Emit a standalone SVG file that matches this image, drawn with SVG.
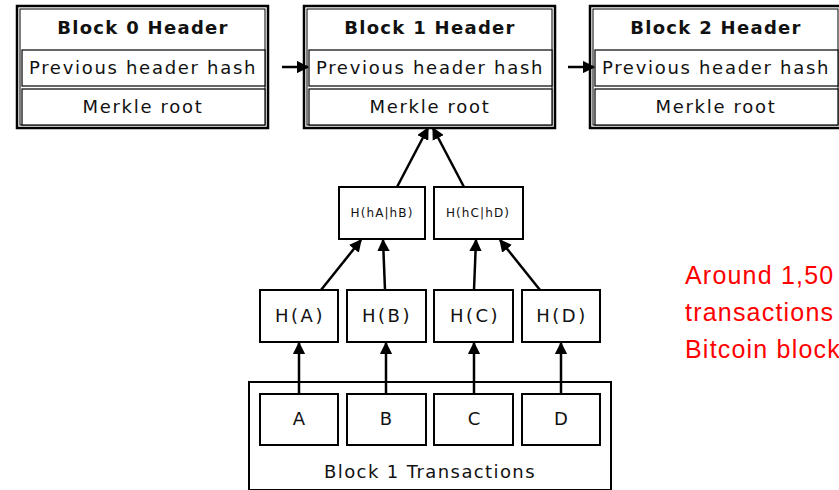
<svg xmlns="http://www.w3.org/2000/svg" width="839" height="490" viewBox="0 0 839 490">
  <style>
    .frame { fill: #fff; stroke: #000; stroke-width: 2.5; }
    .inner { fill: none; stroke: #000; stroke-width: 1; }
    .field { fill: #fff; stroke: #000; stroke-width: 1.2; }
    .box { fill: #fff; stroke: #000; stroke-width: 2; }
    .t { font-family: "DejaVu Sans", sans-serif; fill: #111; text-anchor: middle; }
    .title { font-size: 18px; font-weight: bold; letter-spacing: 1.3px; }
    .lbl { font-size: 18px; letter-spacing: 1.7px; }
    .small { font-size: 12px; letter-spacing: 1.1px; }
    .hash { font-size: 18px; letter-spacing: 2.5px; }
    .tx { font-size: 18px; }
    .note { font-family: "Liberation Sans", "Open Sans", sans-serif; font-size: 25px; letter-spacing: 1.2px; fill: #ff0000; }
    .edge { stroke: #000; stroke-width: 2.5; fill: none; marker-end: url(#head); }
  </style>
  <defs>
    <marker id="head" viewBox="0 0 10 10" refX="9" refY="5" markerWidth="5" markerHeight="5" orient="auto" markerUnits="strokeWidth">
      <path d="M0,0 L10,5 L0,10 z" fill="#000"/>
    </marker>
  </defs>
  <rect width="839" height="490" fill="#fff"/>

  <!-- block headers -->
  <g id="block0">
    <rect class="frame" x="17" y="6" width="251" height="122"/>
    <rect class="inner" x="20" y="9" width="245" height="116"/>
    <text class="t title" x="143" y="34">Block 0 Header</text>
    <rect class="field" x="22" y="50" width="243" height="36"/>
    <text class="t lbl" x="143" y="74">Previous header hash</text>
    <rect class="field" x="22" y="89" width="243" height="36"/>
    <text class="t lbl" x="143" y="113">Merkle root</text>
  </g>
  <g id="block1">
    <rect class="frame" x="304" y="6" width="251" height="122"/>
    <rect class="inner" x="307" y="9" width="245" height="116"/>
    <text class="t title" x="430" y="34">Block 1 Header</text>
    <rect class="field" x="309" y="50" width="243" height="36"/>
    <text class="t lbl" x="430" y="74">Previous header hash</text>
    <rect class="field" x="309" y="89" width="243" height="36"/>
    <text class="t lbl" x="430" y="113">Merkle root</text>
  </g>
  <g id="block2">
    <rect class="frame" x="590" y="6" width="251" height="122"/>
    <rect class="inner" x="593" y="9" width="245" height="116"/>
    <text class="t title" x="716" y="34">Block 2 Header</text>
    <rect class="field" x="595" y="50" width="243" height="36"/>
    <text class="t lbl" x="716" y="74">Previous header hash</text>
    <rect class="field" x="595" y="89" width="243" height="36"/>
    <text class="t lbl" x="716" y="113">Merkle root</text>
  </g>

  <!-- inner hash nodes -->
  <g id="hAB">
    <rect class="box" x="339" y="187" width="86" height="52"/>
    <text class="t small" x="382" y="217">H(hA|hB)</text>
  </g>
  <g id="hCD">
    <rect class="box" x="434" y="187" width="89" height="52"/>
    <text class="t small" x="478" y="217">H(hC|hD)</text>
  </g>

  <!-- leaf hashes -->
  <g id="hA">
    <rect class="box" x="260" y="290" width="78" height="52"/>
    <text class="t hash" x="300" y="322">H(A)</text>
  </g>
  <g id="hB">
    <rect class="box" x="347" y="290" width="79" height="52"/>
    <text class="t hash" x="387" y="322">H(B)</text>
  </g>
  <g id="hC">
    <rect class="box" x="434" y="290" width="79" height="52"/>
    <text class="t hash" x="475" y="322">H(C)</text>
  </g>
  <g id="hD">
    <rect class="box" x="522" y="290" width="78" height="52"/>
    <text class="t hash" x="562" y="322">H(D)</text>
  </g>

  <!-- transactions -->
  <g id="txs">
    <rect class="box" x="249" y="382" width="362" height="108"/>
    <text class="t lbl" x="430" y="478" style="letter-spacing:1.4px">Block 1 Transactions</text>
  </g>
  <g id="txA">
    <rect class="box" x="260" y="394" width="78" height="51"/>
    <text class="t tx" x="299" y="425">A</text>
  </g>
  <g id="txB">
    <rect class="box" x="347" y="394" width="79" height="51"/>
    <text class="t tx" x="386" y="425">B</text>
  </g>
  <g id="txC">
    <rect class="box" x="434" y="394" width="79" height="51"/>
    <text class="t tx" x="474" y="425">C</text>
  </g>
  <g id="txD">
    <rect class="box" x="522" y="394" width="78" height="51"/>
    <text class="t tx" x="561" y="425">D</text>
  </g>

  <!-- connectors -->
  <g id="edges">
    <line class="edge" x1="282" y1="67" x2="308" y2="67"/>
    <line class="edge" x1="568" y1="67" x2="594" y2="67"/>
    <line class="edge" x1="397" y1="187" x2="428" y2="128"/>
    <line class="edge" x1="464" y1="187" x2="433" y2="128"/>
    <line class="edge" x1="321" y1="290" x2="361" y2="240"/>
    <line class="edge" x1="385" y1="290" x2="383" y2="240"/>
    <line class="edge" x1="474" y1="290" x2="476" y2="240"/>
    <line class="edge" x1="540" y1="290" x2="500" y2="240"/>
    <line class="edge" x1="299" y1="394" x2="299" y2="343"/>
    <line class="edge" x1="386" y1="394" x2="386" y2="343"/>
    <line class="edge" x1="474" y1="394" x2="474" y2="343"/>
    <line class="edge" x1="561" y1="394" x2="561" y2="343"/>
  </g>

  <!-- side note -->
  <g id="note">
    <text class="note" x="685" y="284">Around 1,50</text>
    <text class="note" x="685" y="321">transactions</text>
    <text class="note" x="685" y="358">Bitcoin block</text>
  </g>
</svg>
